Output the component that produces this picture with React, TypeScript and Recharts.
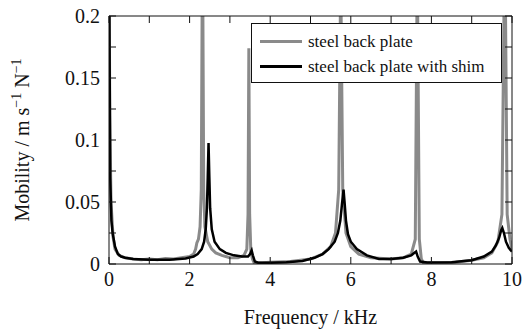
import { LineChart, Line, XAxis, YAxis, Label } from 'recharts'

// frequency in kHz, mobility in m s^-1 N^-1
const plateFreq = [
  0, 0.02, 0.05, 0.1, 0.15, 0.25, 0.4, 0.6, 0.8, 1.0, 1.2, 1.4, 1.6, 1.8, 2.0, 2.1, 2.15, 2.18, 2.22,
  2.26, 2.29, 2.31, 2.32, 2.33, 2.35, 2.38, 2.45, 2.55, 2.65, 2.8, 3.0, 3.2, 3.35, 3.42, 3.45, 3.47,
  3.49, 3.52, 3.56, 3.6, 3.8, 4.0, 4.5, 5.0, 5.3, 5.5, 5.62, 5.7, 5.74, 5.75, 5.76, 5.8, 5.88, 6.0,
  6.2, 6.5, 7.0, 7.3, 7.5, 7.6, 7.64, 7.65, 7.66, 7.7, 7.75, 7.8, 8.2, 8.6, 9.0, 9.3, 9.5, 9.65, 9.75,
  9.8, 9.82, 9.84, 9.88, 9.95, 10.0,
]
const plateMob = [
  0.25, 0.12, 0.05, 0.022, 0.012, 0.007, 0.005, 0.004, 0.0035, 0.004, 0.0035, 0.0045, 0.004, 0.005,
  0.006, 0.008, 0.012, 0.017, 0.02, 0.03, 0.06, 0.2, 0.5, 0.2, 0.06, 0.03, 0.018, 0.012, 0.009, 0.007,
  0.005, 0.005, 0.007, 0.012, 0.04, 0.174, 0.04, 0.01, 0.004, 0.001, 0.001, 0.0015, 0.002, 0.004,
  0.008, 0.014, 0.025, 0.06, 0.2, 0.5, 0.2, 0.06, 0.025, 0.014, 0.008, 0.005, 0.004, 0.005, 0.008,
  0.02, 0.2, 0.5, 0.2, 0.02, 0.004, 0.001, 0.001, 0.0015, 0.003, 0.005, 0.009, 0.018, 0.04, 0.2, 0.5,
  0.2, 0.04, 0.02, 0.012,
]

const shimFreq = [
  0, 0.01, 0.03, 0.06, 0.09, 0.15, 0.22, 0.3, 0.4, 0.6, 1.0, 1.5, 1.9, 2.1, 2.2, 2.3, 2.36, 2.4, 2.43,
  2.45, 2.47, 2.49, 2.51, 2.55, 2.62, 2.75, 2.9, 3.1, 3.3, 3.45, 3.5, 3.54, 3.57, 3.62, 3.7, 4.0, 4.4,
  4.8, 5.1, 5.3, 5.45, 5.6, 5.68, 5.74, 5.78, 5.82, 5.85, 5.88, 5.93, 6.0, 6.15, 6.4, 6.7, 7.0, 7.3,
  7.5, 7.58, 7.62, 7.66, 7.72, 7.9, 8.5, 9.0, 9.3, 9.5, 9.6, 9.68, 9.73, 9.76, 9.8, 9.85, 9.92, 10.0,
]
const shimMob = [
  0.3, 0.2, 0.07, 0.035, 0.025, 0.014, 0.008, 0.006, 0.005, 0.004, 0.0035, 0.0035, 0.0045, 0.006,
  0.008, 0.012, 0.018, 0.028, 0.045, 0.07, 0.0975, 0.07, 0.045, 0.028, 0.018, 0.012, 0.009, 0.007,
  0.006, 0.006, 0.008, 0.011, 0.007, 0.002, 0.001, 0.001, 0.0015, 0.0025, 0.005, 0.008, 0.012, 0.018,
  0.025, 0.035, 0.048, 0.06, 0.048, 0.035, 0.024, 0.018, 0.012, 0.007, 0.004, 0.004, 0.005, 0.007,
  0.009, 0.01, 0.006, 0.002, 0.0012, 0.0015, 0.003, 0.006, 0.01, 0.015, 0.021, 0.027, 0.029, 0.025,
  0.018, 0.013, 0.01,
]

const xTicks = [0, 1, 2, 3, 4, 5, 6, 7, 8, 9, 10]
const yTicks = [0, 0.025, 0.05, 0.075, 0.1, 0.125, 0.15, 0.175, 0.2]

const plateData = plateFreq.map((f, i) => ({ f, v: plateMob[i] }))
const shimData = shimFreq.map((f, i) => ({ f, v: shimMob[i] }))

const font = 'Liberation Serif, DejaVu Serif, Tinos, serif'
const ink = '#111'
const tickFont = { fontFamily: font, fontSize: 20, fill: ink }

const xLabel = (v: number) => (v % 2 === 0 ? String(v) : '')
const yLabel = (v: number) => (Math.round(v * 1000) % 50 === 0 ? String(v) : '')
const blank = () => ''

function YTitle({ viewBox }: any) {
  const cy = viewBox.y + viewBox.height / 2
  const x = 29
  return (
    <text
      x={x}
      y={cy}
      transform={`rotate(-90 ${x} ${cy})`}
      textAnchor="middle"
      style={{ fontFamily: font }}
      fontSize={20}
      fill={ink}
    >
      Mobility / m s
      <tspan dy={-8} fontSize={14}>−1</tspan>
      <tspan dy={8}> N</tspan>
      <tspan dy={-8} fontSize={14}>−1</tspan>
    </text>
  )
}

function XTitle({ viewBox }: any) {
  return (
    <text
      x={viewBox.x + viewBox.width / 2}
      y={viewBox.y + viewBox.height - 5}
      textAnchor="middle"
      style={{ fontFamily: font }}
      fontSize={20}
      fill={ink}
    >
      Frequency / kHz
    </text>
  )
}

function LegendBox() {
  const row = (color: string, width: number, text: string) => (
    <div style={{ display: 'flex', alignItems: 'center', height: 25 }}>
      <div style={{ width: 42, height: width, background: color, marginRight: 6 }} />
      <span>{text}</span>
    </div>
  )
  return (
    <div
      style={{
        position: 'absolute',
        left: 251,
        top: 23,
        width: 251,
        height: 60,
        boxSizing: 'border-box',
        border: `1px solid ${ink}`,
        background: '#fff',
        padding: '5px 0 0 8px',
        fontFamily: font,
        fontSize: 17,
        color: ink,
        lineHeight: 1,
      }}
    >
      {row('#8a8a8a', 3, 'steel back plate')}
      {row('#000', 2.5, 'steel back plate with shim')}
    </div>
  )
}

export default function App() {
  return (
    <div style={{ position: 'absolute', left: 0, top: 0, width: 524, height: 329, background: '#fff' }}>
      <LineChart width={524} height={329} margin={{ top: 0, right: 0, bottom: 0, left: 0 }}>
        <XAxis
          xAxisId="b"
          type="number"
          dataKey="f"
          domain={[0, 10]}
          ticks={xTicks}
          allowDataOverflow
          height={65}
          tickSize={-7}
          tickMargin={15}
          tickFormatter={xLabel}
          tick={tickFont}
          stroke={ink}
        >
          <Label content={XTitle} />
        </XAxis>
        <XAxis
          xAxisId="t"
          orientation="top"
          type="number"
          dataKey="f"
          domain={[0, 10]}
          ticks={xTicks}
          allowDataOverflow
          height={16}
          tickSize={-7}
          tickFormatter={blank}
          stroke={ink}
        />
        <YAxis
          yAxisId="l"
          type="number"
          domain={[0, 0.2]}
          ticks={yTicks}
          allowDataOverflow
          width={109}
          tickSize={-7}
          tickMargin={16}
          tickFormatter={yLabel}
          tick={tickFont}
          stroke={ink}
        >
          <Label content={YTitle} />
        </YAxis>
        <YAxis
          yAxisId="r"
          orientation="right"
          type="number"
          domain={[0, 0.2]}
          ticks={yTicks}
          allowDataOverflow
          width={12}
          tickSize={-7}
          tickFormatter={blank}
          stroke={ink}
        />
        <Line
          xAxisId="b"
          yAxisId="l"
          data={plateData}
          dataKey="v"
          type="linear"
          stroke="#8a8a8a"
          strokeWidth={3}
          dot={false}
          isAnimationActive={false}
        />
        <Line
          xAxisId="b"
          yAxisId="l"
          data={shimData}
          dataKey="v"
          type="linear"
          stroke="#000"
          strokeWidth={2.5}
          dot={false}
          isAnimationActive={false}
        />
      </LineChart>
      <LegendBox />
    </div>
  )
}
